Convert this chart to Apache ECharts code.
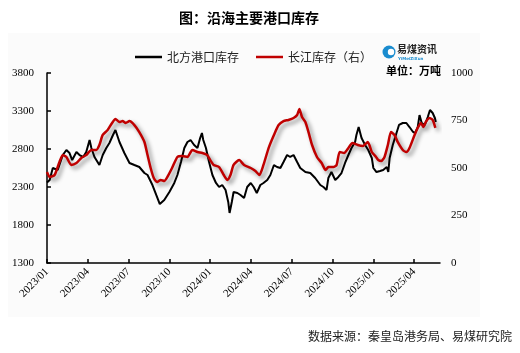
<!DOCTYPE html>
<html>
<head>
<meta charset="utf-8">
<script src="https://cdn.jsdelivr.net/npm/echarts@6/dist/echarts.min.js"></script>
<style>
  html, body { margin: 0; padding: 0; background: #fff; }
  #chart { width: 520px; height: 353px; }
</style>
</head>
<body>
<div id="chart"></div>
<script>
// 季度刻度
const tickLabels = ['2023/01', '2023/04', '2023/07', '2023/10', '2024/01', '2024/04', '2024/07', '2024/10', '2025/01', '2025/04']

// 北方港口库存（左轴，万吨）
const northDates = [
  '2023-01-01', '2023-01-07', '2023-01-14', '2023-01-25', '2023-02-06', '2023-02-14', '2023-02-21', '2023-02-27',
  '2023-03-06', '2023-03-13', '2023-03-21', '2023-03-28', '2023-04-05', '2023-04-09', '2023-04-16', '2023-04-27',
  '2023-05-04', '2023-05-12', '2023-05-19', '2023-05-27', '2023-06-02', '2023-06-11', '2023-06-22', '2023-07-03',
  '2023-07-14', '2023-07-25', '2023-08-06', '2023-08-13', '2023-08-24', '2023-09-02', '2023-09-10', '2023-09-20',
  '2023-10-01', '2023-10-12', '2023-10-19', '2023-10-27', '2023-11-04', '2023-11-11', '2023-11-18', '2023-11-26',
  '2023-12-03', '2023-12-09', '2023-12-13', '2023-12-16', '2023-12-22', '2023-12-29', '2024-01-06', '2024-01-14',
  '2024-01-21', '2024-01-28', '2024-02-05', '2024-02-11', '2024-02-14', '2024-02-19', '2024-02-23', '2024-03-01',
  '2024-03-08', '2024-03-16', '2024-03-23', '2024-03-31', '2024-04-07', '2024-04-14', '2024-04-22', '2024-04-29',
  '2024-05-07', '2024-05-14', '2024-05-22', '2024-05-29', '2024-06-06', '2024-06-13', '2024-06-21', '2024-06-28',
  '2024-07-05', '2024-07-13', '2024-07-20', '2024-08-01', '2024-08-12', '2024-08-23', '2024-09-04', '2024-09-11',
  '2024-09-18', '2024-09-22', '2024-09-29', '2024-10-07', '2024-10-14', '2024-10-21', '2024-10-29', '2024-11-06',
  '2024-11-13', '2024-11-21', '2024-11-24', '2024-11-29', '2024-12-05', '2024-12-13', '2024-12-20', '2024-12-28',
  '2025-01-01', '2025-01-08', '2025-01-16', '2025-01-23', '2025-01-31', '2025-02-04', '2025-02-07', '2025-02-14',
  '2025-02-21', '2025-02-28', '2025-03-06', '2025-03-14', '2025-03-21', '2025-03-29', '2025-04-03', '2025-04-09',
  '2025-04-13', '2025-04-18', '2025-04-25', '2025-05-01', '2025-05-06', '2025-05-12', '2025-05-17', '2025-05-19'
]
const northValues = [
  2360, 2392, 2550, 2524, 2721, 2787, 2747, 2655,
  2761, 2721, 2695, 2761, 2918, 2813, 2695, 2589,
  2721, 2813, 2879, 2984, 3050, 2892, 2747, 2616,
  2589, 2563, 2484, 2458, 2326, 2195, 2076, 2129,
  2234, 2353, 2458, 2629, 2813, 2892, 2918, 2853,
  2813, 2945, 3010, 2918, 2813, 2629, 2458, 2353,
  2300, 2326, 2261, 2103, 1958, 2103, 2234, 2221,
  2195, 2155, 2300, 2353, 2300, 2221, 2326, 2353,
  2392, 2458, 2589, 2563, 2550, 2629, 2721, 2695,
  2721, 2629, 2550, 2497, 2484, 2418, 2326, 2300,
  2261, 2418, 2497, 2392, 2432, 2484, 2616, 2721,
  2813, 2892, 2984, 3089, 2945, 2853, 2787, 2682,
  2550, 2497, 2511, 2524, 2563, 2497, 2682, 2853,
  2984, 3116, 3142, 3142, 3089, 3024, 3010, 3089,
  3247, 3142, 3116, 3221, 3313, 3274, 3208, 3155
]

// 长江库存（右轴，万吨）
const yangtzeDates = [
  '2023-01-01', '2023-01-07', '2023-01-18', '2023-01-29', '2023-02-06', '2023-02-14', '2023-02-25', '2023-03-06',
  '2023-03-17', '2023-03-28', '2023-04-09', '2023-04-20', '2023-04-27', '2023-05-04', '2023-05-15', '2023-05-25',
  '2023-06-02', '2023-06-11', '2023-06-18', '2023-06-25', '2023-07-03', '2023-07-14', '2023-07-25', '2023-08-06',
  '2023-08-13', '2023-08-20', '2023-08-27', '2023-09-04', '2023-09-12', '2023-09-20', '2023-09-27', '2023-10-07',
  '2023-10-19', '2023-10-30', '2023-11-11', '2023-11-22', '2023-12-03', '2023-12-14', '2023-12-25', '2024-01-01',
  '2024-01-09', '2024-01-21', '2024-02-01', '2024-02-09', '2024-02-16', '2024-02-23', '2024-03-05', '2024-03-16',
  '2024-03-31', '2024-04-11', '2024-04-20', '2024-04-29', '2024-05-10', '2024-05-22', '2024-06-02', '2024-06-13',
  '2024-06-24', '2024-07-05', '2024-07-13', '2024-07-18', '2024-07-24', '2024-08-01', '2024-08-08', '2024-08-16',
  '2024-08-27', '2024-09-07', '2024-09-16', '2024-09-22', '2024-10-03', '2024-10-10', '2024-10-17', '2024-10-27',
  '2024-11-06', '2024-11-15', '2024-11-27', '2024-12-08', '2024-12-19', '2024-12-28', '2025-01-07', '2025-01-12',
  '2025-01-19', '2025-01-26', '2025-02-03', '2025-02-10', '2025-02-18', '2025-02-25', '2025-03-06', '2025-03-14',
  '2025-03-21', '2025-04-02', '2025-04-09', '2025-04-16', '2025-04-22', '2025-04-27', '2025-05-05', '2025-05-12',
  '2025-05-18'
]
const yangtzeValues = [
  479, 453, 463, 532, 568, 558, 516, 526,
  553, 568, 595, 595, 621, 674, 700, 737,
  758, 742, 747, 737, 747, 726, 689, 637,
  568, 500, 447, 426, 437, 432, 453, 500,
  558, 563, 558, 595, 584, 579, 568, 542,
  516, 505, 463, 437, 463, 516, 542, 516,
  500, 484, 463, 516, 605, 674, 726, 747,
  753, 763, 779, 811, 768, 742, 689, 621,
  558, 526, 489, 505, 505, 516, 584, 579,
  605, 632, 621, 616, 637, 584, 558, 542,
  537, 558, 621, 689, 674, 637, 595, 584,
  605, 674, 711, 737, 716, 742, 763, 753,
  711
]

// 日期 -> 自2023/01起的月数
const toMonth = (s) => {
  const [y, m, d] = s.split('-').map(Number)
  return (y - 2023) * 12 + (m - 1) + (d - 1) / 30.5
}
const pair = (dates, values) => dates.map((d, i) => [toMonth(d), values[i]])

const serif = 'Liberation Serif'
const cjk = 'Noto Sans CJK SC'
const plain = (v) => String(v)

const myChart = echarts.init(document.getElementById('chart'), null, { renderer: 'canvas' })
const option = {
  backgroundColor: '#fff',
  animation: false,
  title: {
    text: '图：沿海主要港口库存',
    left: 244,
    textAlign: 'center',
    top: 6,
    textStyle: { fontFamily: cjk, fontSize: 14, fontWeight: 'bold', color: '#000' }
  },
  graphic: [
    {
      type: 'rect', z: -10, silent: true,
      shape: { x: 8, y: 33, width: 472, height: 284 },
      style: { fill: '#fbfbfb' }
    },
    {
      type: 'circle', shape: { cx: 389, cy: 52, r: 6.5 },
      style: { fill: '#1a8ccf' }
    },
    {
      type: 'circle', shape: { cx: 391, cy: 52, r: 3.2 },
      style: { fill: '#fff' }
    },
    {
      type: 'text', left: 397, top: 44,
      style: { text: '易煤资讯', font: 'bold 10px "Noto Sans CJK SC"', fill: '#222' }
    },
    {
      type: 'text', left: 398, top: 57,
      style: { text: 'YiMeiZiXun', font: 'bold 4px "DejaVu Sans"', fill: '#1a8ccf' }
    },
    {
      type: 'text', left: 386, top: 65,
      style: { text: '单位：万吨', font: 'bold 11px "Noto Sans CJK SC"', fill: '#000' }
    },
    {
      type: 'text', right: 8, top: 330,
      style: { text: '数据来源：秦皇岛港务局、易煤研究院', font: '12px "Noto Sans CJK SC"', fill: '#222' }
    }
  ],
  legend: {
    left: 130,
    top: 46,
    icon: 'rect',
    itemWidth: 27,
    itemHeight: 2.5,
    itemGap: 17,
    textStyle: { fontFamily: cjk, fontSize: 12, color: '#222' },
    data: ['北方港口库存', '长江库存（右）']
  },
  grid: { left: 47, right: 80, top: 73, bottom: 90 },
  xAxis: {
    type: 'value',
    min: 0,
    max: 28.9,
    interval: 3,
    splitLine: { show: false },
    axisLine: { show: true, lineStyle: { color: '#000', width: 1.5 } },
    axisTick: {
      show: true, inside: true, length: 4,
      customValues: tickLabels.map((_, i) => i * 3),
      lineStyle: { color: '#000', width: 1.5 }
    },
    axisLabel: {
      customValues: tickLabels.map((_, i) => i * 3),
      formatter: (v) => tickLabels[Math.round(v / 3)] || '',
      rotate: 45,
      margin: 7,
      fontFamily: serif,
      fontSize: 11,
      color: '#000'
    }
  },
  yAxis: [
    {
      type: 'value',
      min: 1300,
      max: 3800,
      interval: 500,
      splitLine: { show: false },
      axisLine: { show: true, lineStyle: { color: '#000', width: 1.5 } },
      axisTick: { show: true, inside: true, length: 4, lineStyle: { color: '#000', width: 1.5 } },
      axisLabel: { margin: 13, formatter: plain, fontFamily: serif, fontSize: 11, color: '#000' }
    },
    {
      type: 'value',
      min: 0,
      max: 1000,
      interval: 250,
      splitLine: { show: false },
      axisLine: { show: false },
      axisTick: { show: false },
      axisLabel: { margin: 11, formatter: plain, fontFamily: serif, fontSize: 11, color: '#000' }
    }
  ],
  series: [
    {
      name: '北方港口库存',
      type: 'line',
      yAxisIndex: 0,
      showSymbol: false,
      symbol: 'none',
      data: pair(northDates, northValues),
      lineStyle: { color: '#000', width: 2 },
      itemStyle: { color: '#000' },
      z: 2
    },
    {
      name: '长江库存（右）',
      type: 'line',
      yAxisIndex: 1,
      showSymbol: false,
      symbol: 'none',
      smooth: 0.2,
      data: pair(yangtzeDates, yangtzeValues),
      lineStyle: {
        color: '#c00000',
        width: 2.5,
        shadowColor: 'rgba(0,0,0,0.45)',
        shadowBlur: 4,
        shadowOffsetX: 3,
        shadowOffsetY: 3
      },
      itemStyle: { color: '#c00000' },
      z: 3
    }
  ]
}
myChart.setOption(option)
</script>
</body>
</html>
